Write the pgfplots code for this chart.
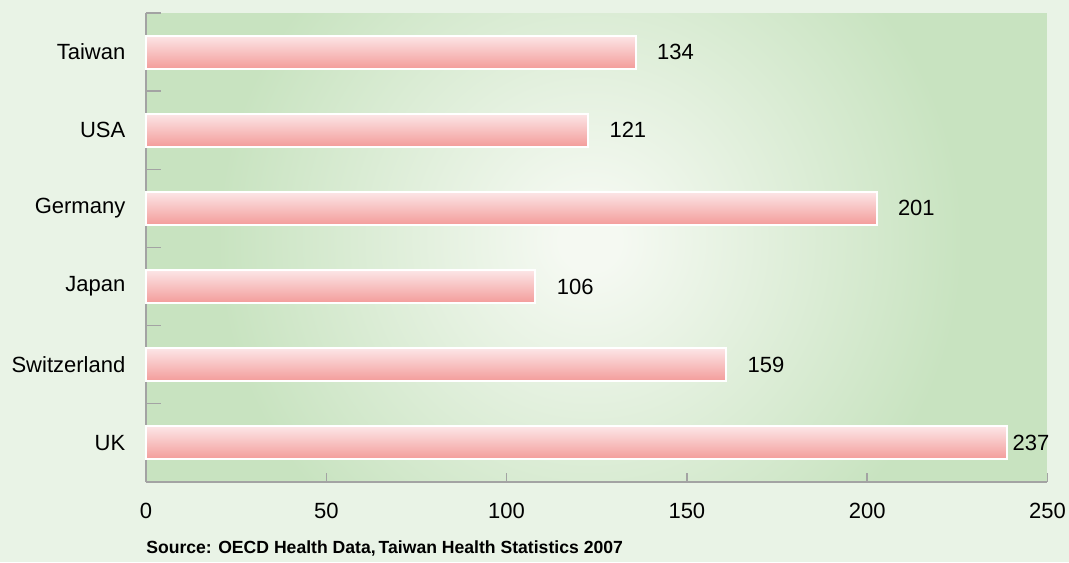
\documentclass[border=0pt]{standalone}
\usepackage{fontspec}
\setmainfont{Liberation Sans}
\usepackage{pgfplots}
\pgfplotsset{compat=1.18}
\usetikzlibrary{backgrounds}
\definecolor{Page}{HTML}{E9F3E6}
\definecolor{PlotEdge}{HTML}{C8E3C0}
\definecolor{PlotMid}{HTML}{F5F9F2}
\definecolor{BarTop}{HTML}{FCE6E7}
\definecolor{BarBot}{HTML}{F39C9A}
\definecolor{AxisGray}{HTML}{A3A3A3}
% the circle's radius is drawn at 25bp of the shading
\pgfdeclareradialshading{plotglow}{\pgfpoint{0bp}{0bp}}{%
  color(0bp)=(PlotMid); color(2bp)=(PlotMid); color(25bp)=(PlotEdge); color(50bp)=(PlotEdge)}

\pgfplotsset{
  onebar/.style={draw=white, line width=1.5pt, top color=BarTop, bottom color=BarBot,
    every node near coord/.append style={xshift=#1}},
  onebar/.default=12pt,
}

\begin{document}
\begin{tikzpicture}
\begin{axis}[
    xbar,
    bar width=24.75pt,
    bar shift=0pt,
    scale only axis,
    width=676.1pt, height=351.5pt,
    xmin=0, xmax=250,
    ymin=-0.5, ymax=5.5,
    axis x line*=bottom,
    axis y line*=left,
    axis line style={AxisGray, line width=1.4pt},
    tick align=inside,
    xtick={0,50,...,250},
    ytick={0,...,5},
    yticklabels={UK,Switzerland,Japan,Germany,USA,Taiwan},
    minor ytick={-0.5,0.5,...,5.5},
    major tick length=6.75pt,
    minor tick length=11.25pt,
    tick style={AxisGray, line width=1.1pt},
    major y tick style={draw=none},
    /pgf/number format/assume math mode=true,
    tick label style={font=\fontsize{16.5}{19}\selectfont, color=black},
    x tick label style={yshift=-12.5pt},
    y tick label style={xshift=-12pt},
    nodes near coords,
    point meta=explicit symbolic,
    every node near coord/.append style={font=\fontsize{16.5}{19}\selectfont, color=black, anchor=west},
    clip=false,
  ]
  \coordinate (SW) at (rel axis cs:0,0);
  \addplot[onebar] coordinates {(135.8,5) [134]};
  \addplot[onebar] coordinates {(122.6,4) [121]};
  \addplot[onebar] coordinates {(202.6,3) [201]};
  \addplot[onebar] coordinates {(108.0,2) [106]};
  \addplot[onebar] coordinates {(160.9,1) [159]};
  \addplot[onebar=0.3pt] coordinates {(238.7,0) [237]};
  \node[anchor=west, inner sep=0pt, font=\bfseries\fontsize{13.2}{15}\selectfont]
    at ([yshift=-50pt]rel axis cs:0,0) {Source: OECD Health Data,\,Taiwan Health Statistics 2007};
\end{axis}
\begin{scope}[on background layer, shift={(SW)}, x=1pt, y=1pt]
  \fill[Page] (-109.5,-60.2) rectangle (692.25,361.3);
  \clip (0,0) rectangle (676.1,351.5);
  \fill[PlotEdge] (0,0) rectangle (676.1,351.5);
  \shade[shading=plotglow] (333,181) circle (280);
\end{scope}
\pgfresetboundingbox
\path[use as bounding box, shift={(SW)}, x=1pt, y=1pt] (-109.5,-60.2) rectangle (692.25,361.3);
\end{tikzpicture}
\end{document}
